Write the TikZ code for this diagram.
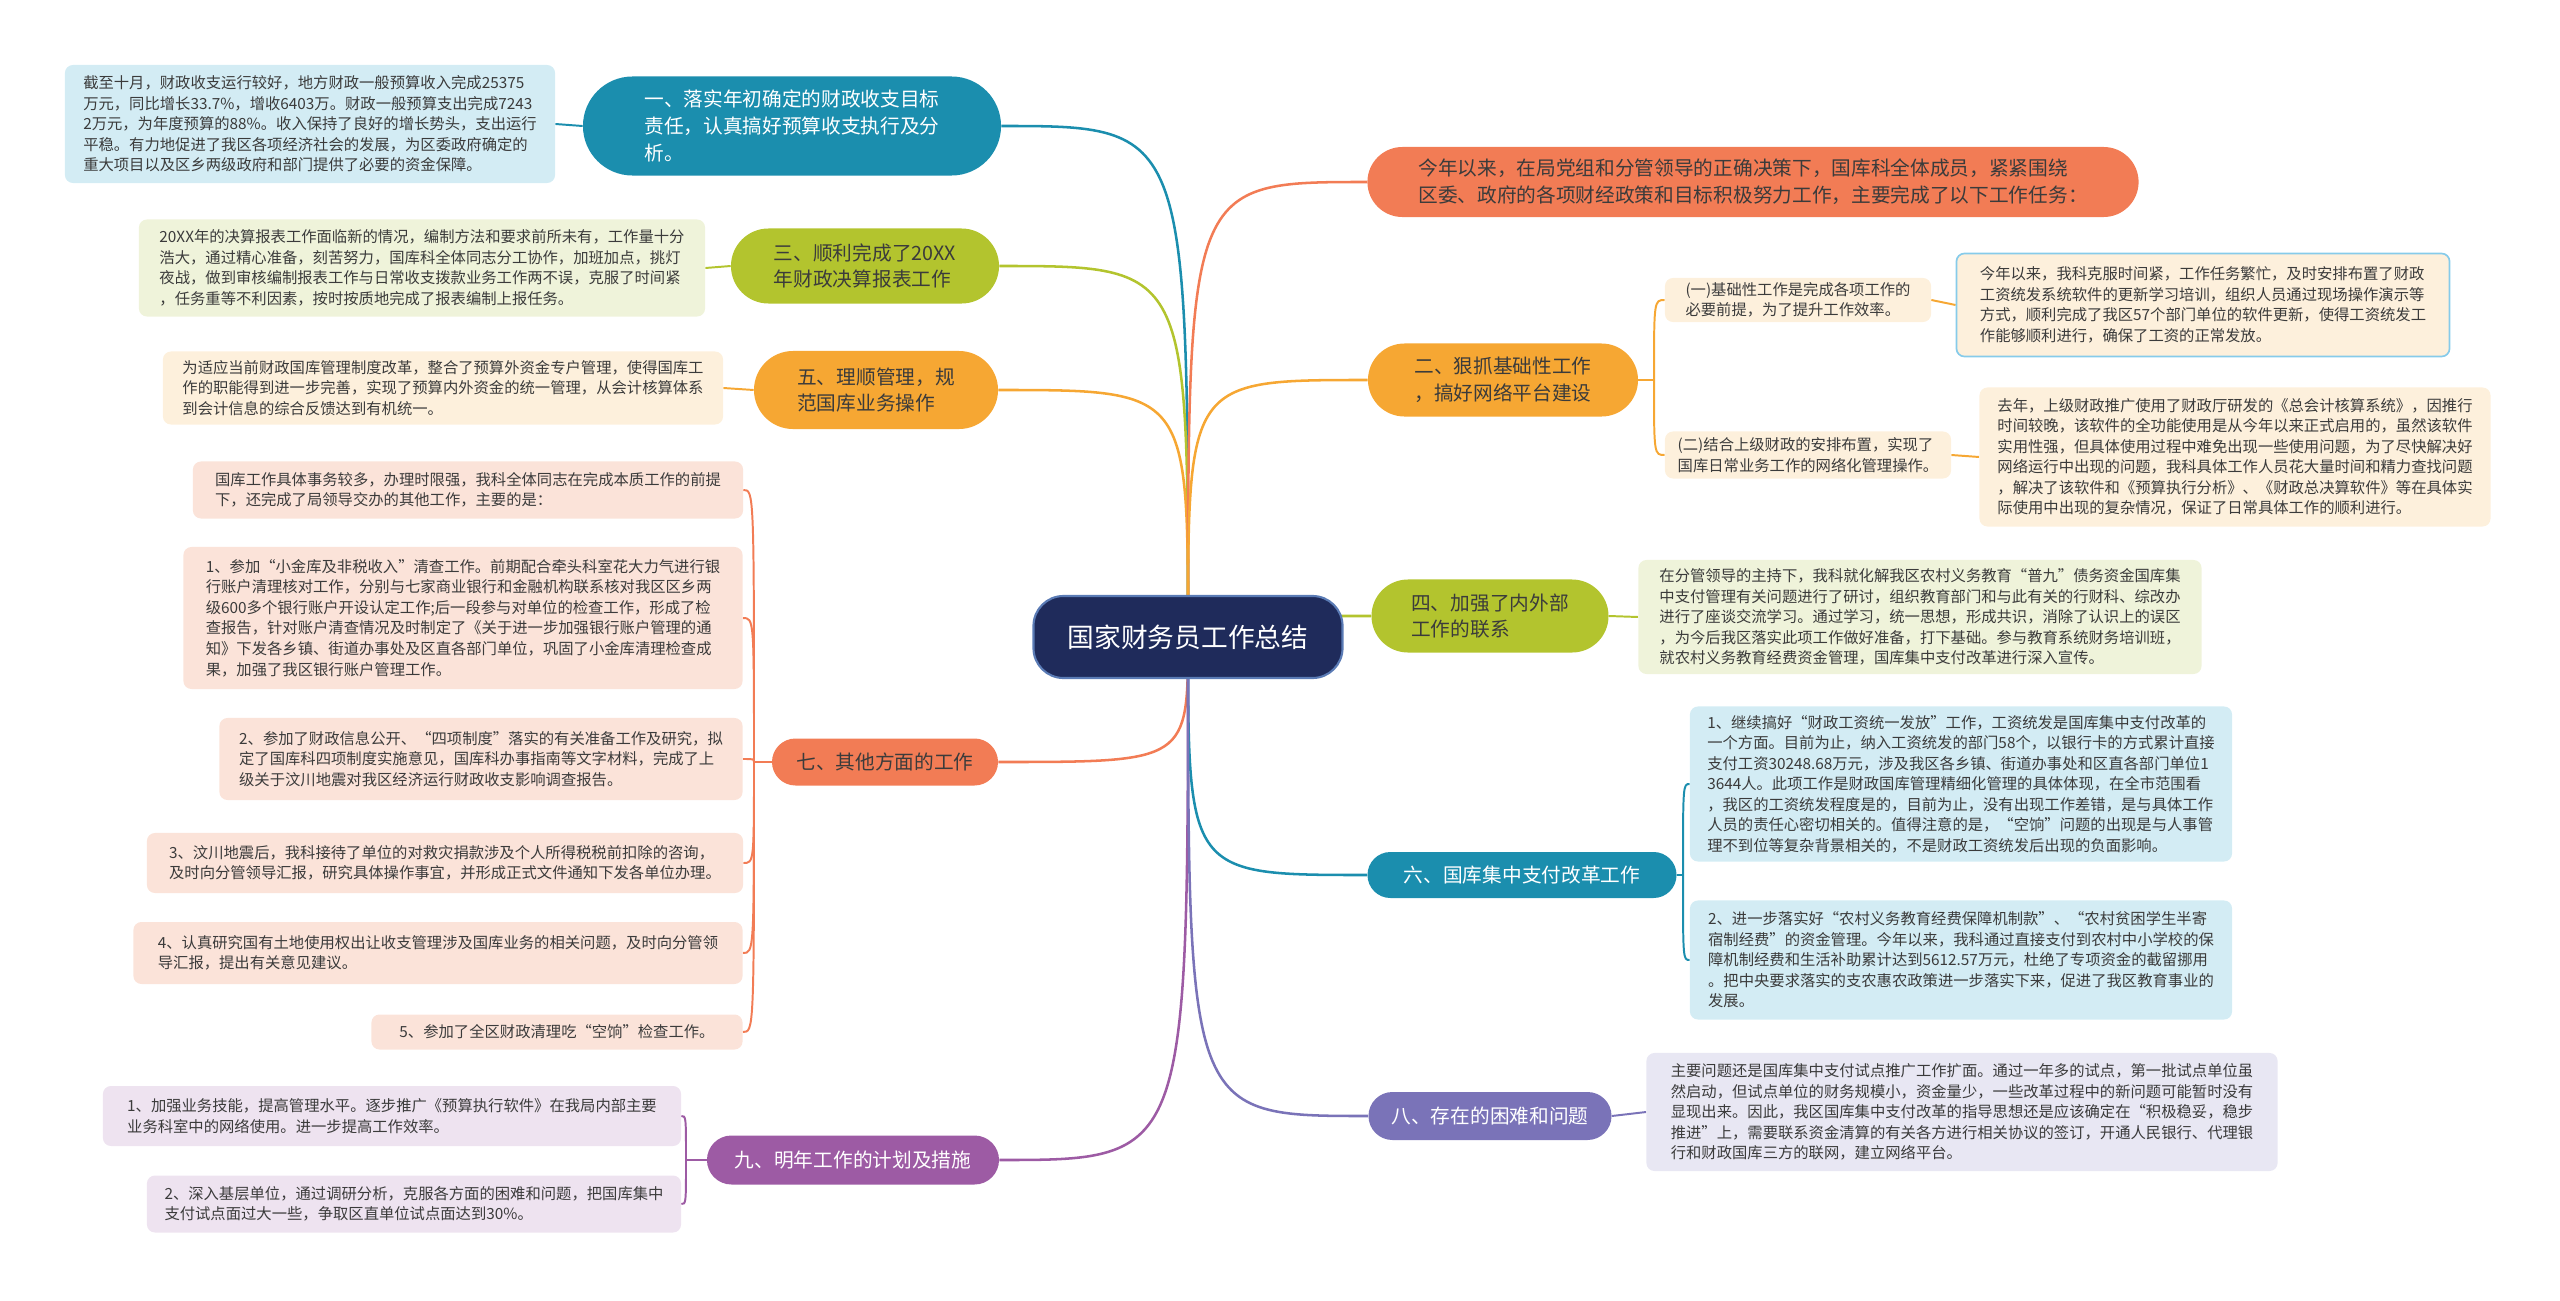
\documentclass[tikz,border=0pt]{standalone}
\usepackage{fontspec}
\newfontfamily\cjk{Noto Sans CJK SC}
\usepackage{tikz}
\usetikzlibrary{shapes.misc, backgrounds}

\definecolor{tealmain}{HTML}{1B8EAE}
\definecolor{tealsoft}{HTML}{D3ECF4}
\definecolor{limemain}{HTML}{B3C42E}
\definecolor{limesoft}{HTML}{EFF3DA}
\definecolor{ambermain}{HTML}{F6A733}
\definecolor{ambersoft}{HTML}{FDF0DC}
\definecolor{coralmain}{HTML}{F27C55}
\definecolor{coralsoft}{HTML}{FBE3D9}
\definecolor{plummain}{HTML}{9D5BA4}
\definecolor{plumsoft}{HTML}{EEE3F0}
\definecolor{slatemain}{HTML}{7A73B8}
\definecolor{slatesoft}{HTML}{E8E7F3}
\definecolor{rootnavy}{HTML}{1F2B5B}
\definecolor{rootedge}{HTML}{5A7BB5}
\definecolor{inkgray}{HTML}{3B3B3B}
\definecolor{skyedge}{HTML}{86CBEA}

\tikzset{
	leaftext/.style={font=\cjk\fontsize{10.9pt}{14.6pt}\selectfont, text=inkgray, align=left}
}
\tikzset{
	branchtext/.style={font=\cjk\fontsize{14pt}{19pt}\selectfont, align=left}
}

\begin{document}
\begin{tikzpicture}[x=0.025cm, y=-0.025cm]

\tikzset{
    leafbox/.style={
        leaftext,
        shape=rectangle,
        rounded corners=0.2cm,
        inner sep=0pt
    },
    branchnode/.style={
        branchtext,
        shape=rounded rectangle,
        inner sep=0pt
    },
    mainline/.style={line width=1.8pt},
    subline/.style={line width=1.4pt}
}

\useasboundingbox (0,0) rectangle (2560,1301);

\node[shape=rectangle, rounded corners=0.75cm, fill=rootnavy, draw=rootedge, line width=1.5pt,
      text=white, font=\cjk\fontsize{19pt}{23pt}\selectfont,
      minimum width=7.725cm, minimum height=2.05cm] (root) at (1188,637) {国家财务员工作总结};

% left side
\node[branchnode, fill=tealmain, text=white, minimum width=10.45cm, minimum height=2.475cm] (n1) at (792,126)
  {一、落实年初确定的财政收支目标\\责任，认真搞好预算收支执行及分\\析。};
\node[leafbox, fill=tealsoft, minimum width=12.25cm, minimum height=2.95cm] (box1) at (310,124)
  {截至十月，财政收支运行较好，地方财政一般预算收入完成25375\\
   万元，同比增长33.7\%，增收6403万。财政一般预算支出完成7243\\
   2万元，为年度预算的88\%。收入保持了良好的增长势头，支出运行\\
   平稳。有力地促进了我区各项经济社会的发展，为区委政府确定的\\
   重大项目以及区乡两级政府和部门提供了必要的资金保障。};

\node[branchnode, fill=limemain, text=inkgray, minimum width=6.7cm, minimum height=1.875cm] (n3) at (865,266)
  {三、顺利完成了20XX\\年财政决算报表工作};
\node[leafbox, fill=limesoft, minimum width=14.15cm, minimum height=2.425cm] (box3) at (422,268)
  {20XX年的决算报表工作面临新的情况，编制方法和要求前所未有，工作量十分\\
   浩大，通过精心准备，刻苦努力，国库科全体同志分工协作，加班加点，挑灯\\
   夜战，做到审核编制报表工作与日常收支拨款业务工作两不误，克服了时间紧\\
   ，任务重等不利因素，按时按质地完成了报表编制上报任务。};

\node[branchnode, fill=ambermain, text=inkgray, minimum width=6.1cm, minimum height=1.95cm] (n5) at (876,390)
  {五、理顺管理，规\\范国库业务操作};
\node[leafbox, fill=ambersoft, minimum width=14cm, minimum height=1.825cm] (box5) at (443,388)
  {为适应当前财政国库管理制度改革，整合了预算外资金专户管理，使得国库工\\
   作的职能得到进一步完善，实现了预算内外资金的统一管理，从会计核算体系\\
   到会计信息的综合反馈达到有机统一。};

\node[branchnode, fill=coralmain, text=inkgray, minimum width=5.65cm, minimum height=1.175cm] (n7) at (885,762)
  {七、其他方面的工作};
\node[leafbox, fill=coralsoft, minimum width=13.75cm, minimum height=1.425cm] (o0) at (468,490)
  {国库工作具体事务较多，办理时限强，我科全体同志在完成本质工作的前提\\
   下，还完成了局领导交办的其他工作，主要的是：};
\node[leafbox, fill=coralsoft, minimum width=13.975cm, minimum height=3.55cm] (o1) at (463,618)
  {1、参加“小金库及非税收入”清查工作。前期配合牵头科室花大力气进行银\\
   行账户清理核对工作，分别与七家商业银行和金融机构联系核对我区区乡两\\
   级600多个银行账户开设认定工作;后一段参与对单位的检查工作，形成了检\\
   查报告，针对账户清查情况及时制定了《关于进一步加强银行账户管理的通\\
   知》下发各乡镇、街道办事处及区直各部门单位，巩固了小金库清理检查成\\
   果，加强了我区银行账户管理工作。};
\node[leafbox, fill=coralsoft, minimum width=13.075cm, minimum height=2.05cm] (o2) at (481,759)
  {2、参加了财政信息公开、“四项制度”落实的有关准备工作及研究，拟\\
   定了国库科四项制度实施意见，国库科办事指南等文字材料，完成了上\\
   级关于汶川地震对我区经济运行财政收支影响调查报告。};
\node[leafbox, fill=coralsoft, minimum width=14.9cm, minimum height=1.5cm] (o3) at (445,863)
  {3、汶川地震后，我科接待了单位的对救灾捐款涉及个人所得税税前扣除的咨询，\\
   及时向分管领导汇报，研究具体操作事宜，并形成正式文件通知下发各单位办理。};
\node[leafbox, fill=coralsoft, minimum width=15.225cm, minimum height=1.55cm] (o4) at (438,953)
  {4、认真研究国有土地使用权出让收支管理涉及国库业务的相关问题，及时向分管领\\
   导汇报，提出有关意见建议。};
\node[leafbox, fill=coralsoft, minimum width=9.275cm, minimum height=0.875cm] (o5) at (557,1032)
  {5、参加了全区财政清理吃“空饷”检查工作。};

\node[branchnode, fill=plummain, text=white, minimum width=7.3cm, minimum height=1.225cm] (n9) at (853,1160)
  {九、明年工作的计划及措施};
\node[leafbox, fill=plumsoft, minimum width=14.45cm, minimum height=1.5cm] (p1) at (392,1116)
  {1、加强业务技能，提高管理水平。逐步推广《预算执行软件》在我局内部主要\\
   业务科室中的网络使用。进一步提高工作效率。};
\node[leafbox, fill=plumsoft, minimum width=13.35cm, minimum height=1.425cm] (p2) at (414,1204)
  {2、深入基层单位，通过调研分析，克服各方面的困难和问题，把国库集中\\
   支付试点面过大一些，争取区直单位试点面达到30\%。};

% right side
\node[branchnode, fill=coralmain, text=inkgray, minimum width=19.275cm, minimum height=1.75cm] (n0) at (1753,182)
  {今年以来，在局党组和分管领导的正确决策下，国库科全体成员，紧紧围绕\\
   区委、政府的各项财经政策和目标积极努力工作，主要完成了以下工作任务：};

\node[branchnode, fill=ambermain, text=inkgray, minimum width=6.75cm, minimum height=1.825cm] (n2) at (1503,380)
  {二、狠抓基础性工作\\，搞好网络平台建设};
\node[leafbox, fill=ambersoft, minimum width=6.65cm, minimum height=1.1cm] (s1) at (1798,300)
  {(一)基础性工作是完成各项工作的\\必要前提，为了提升工作效率。};
\node[leafbox, fill=ambersoft, minimum width=7.15cm, minimum height=1.175cm] (s2) at (1808,455)
  {(二)结合上级财政的安排布置，实现了\\国库日常业务工作的网络化管理操作。};
\node[leafbox, fill=ambersoft, draw=skyedge, line width=1.2pt, minimum width=12.325cm, minimum height=2.575cm] (d1) at (2203,305)
  {今年以来，我科克服时间紧，工作任务繁忙，及时安排布置了财政\\
   工资统发系统软件的更新学习培训，组织人员通过现场操作演示等\\
   方式，顺利完成了我区57个部门单位的软件更新，使得工资统发工\\
   作能够顺利进行，确保了工资的正常发放。};
\node[leafbox, fill=ambersoft, minimum width=12.775cm, minimum height=3.475cm] (d2) at (2235,457)
  {去年，上级财政推广使用了财政厅研发的《总会计核算系统》，因推行\\
   时间较晚，该软件的全功能使用是从今年以来正式启用的，虽然该软件\\
   实用性强，但具体使用过程中难免出现一些使用问题，为了尽快解决好\\
   网络运行中出现的问题，我科具体工作人员花大量时间和精力查找问题\\
   ，解决了该软件和《预算执行分析》、《财政总决算软件》等在具体实\\
   际使用中出现的复杂情况，保证了日常具体工作的顺利进行。};

\node[branchnode, fill=limemain, text=inkgray, minimum width=5.925cm, minimum height=1.825cm] (n4) at (1490,616)
  {四、加强了内外部\\工作的联系};
\node[leafbox, fill=limesoft, minimum width=14.075cm, minimum height=2.85cm] (d4) at (1920,617)
  {在分管领导的主持下，我科就化解我区农村义务教育“普九”债务资金国库集\\
   中支付管理有关问题进行了研讨，组织教育部门和与此有关的行财科、综改办\\
   进行了座谈交流学习。通过学习，统一思想，形成共识，消除了认识上的误区\\
   ，为今后我区落实此项工作做好准备，打下基础。参与教育系统财务培训班，\\
   就农村义务教育经费资金管理，国库集中支付改革进行深入宣传。};

\node[branchnode, fill=tealmain, text=white, minimum width=7.725cm, minimum height=1.15cm] (n6) at (1522,875)
  {六、国库集中支付改革工作};
\node[leafbox, fill=tealsoft, minimum width=13.55cm, minimum height=3.875cm] (q1) at (1961,784)
  {1、继续搞好“财政工资统一发放”工作，工资统发是国库集中支付改革的\\
   一个方面。目前为止，纳入工资统发的部门58个，以银行卡的方式累计直接\\
   支付工资30248.68万元，涉及我区各乡镇、街道办事处和区直各部门单位1\\
   3644人。此项工作是财政国库管理精细化管理的具体体现，在全市范围看\\
   ，我区的工资统发程度是的，目前为止，没有出现工作差错，是与具体工作\\
   人员的责任心密切相关的。值得注意的是，“空饷”问题的出现是与人事管\\
   理不到位等复杂背景相关的，不是财政工资统发后出现的负面影响。};
\node[leafbox, fill=tealsoft, minimum width=13.55cm, minimum height=2.975cm] (q2) at (1961,960)
  {2、进一步落实好“农村义务教育经费保障机制款”、“农村贫困学生半寄\\
   宿制经费”的资金管理。今年以来，我科通过直接支付到农村中小学校的保\\
   障机制经费和生活补助累计达到5612.57万元，杜绝了专项资金的截留挪用\\
   。把中央要求落实的支农惠农政策进一步落实下来，促进了我区教育事业的\\
   发展。};

\node[branchnode, fill=slatemain, text=white, minimum width=6.075cm, minimum height=1.2cm] (n8) at (1490,1116)
  {八、存在的困难和问题};
\node[leafbox, fill=slatesoft, minimum width=15.775cm, minimum height=2.95cm] (d8) at (1962,1112)
  {主要问题还是国库集中支付试点推广工作扩面。通过一年多的试点，第一批试点单位虽\\
   然启动，但试点单位的财务规模小，资金量少，一些改革过程中的新问题可能暂时没有\\
   显现出来。因此，我区国库集中支付改革的指导思想还是应该确定在“积极稳妥，稳步\\
   推进”上，需要联系资金清算的有关各方进行相关协议的签订，开通人民银行、代理银\\
   行和财政国库三方的联网，建立网络平台。};

\coordinate (j7) at (754,762);
\coordinate (j9) at (686,1160);
\coordinate (j2) at (1654,380);
\coordinate (j6) at (1683,875);

\begin{scope}[on background layer]
% root to branches
\draw[mainline, tealmain] (root.center) .. controls (root.center |- n1.east) .. (n1.east);
\draw[mainline, limemain] (root.center) .. controls (root.center |- n3.east) .. (n3.east);
\draw[mainline, ambermain] (root.center) .. controls (root.center |- n5.east) .. (n5.east);
\draw[mainline, coralmain] (root.center) .. controls (root.center |- n7.east) .. (n7.east);
\draw[mainline, plummain] (root.center) .. controls (root.center |- n9.east) .. (n9.east);
\draw[mainline, coralmain] (root.center) .. controls (root.center |- n0.west) .. (n0.west);
\draw[mainline, ambermain] (root.center) .. controls (root.center |- n2.west) .. (n2.west);
\draw[mainline, limemain] (root.center) .. controls (root.center |- n4.west) .. (n4.west);
\draw[mainline, tealmain] (root.center) .. controls (root.center |- n6.west) .. (n6.west);
\draw[mainline, slatemain] (root.center) .. controls (root.center |- n8.west) .. (n8.west);

% branches to leaves
\draw[subline, tealmain] (n1.west) -- (box1.east);
\draw[subline, limemain] (n3.west) -- (box3.east);
\draw[subline, ambermain] (n5.west) -- (box5.east);

\draw[subline, coralmain] (n7.west) -- (j7);
\draw[subline, coralmain] (j7) .. controls (j7 |- o0.east) .. (o0.east);
\draw[subline, coralmain] (j7) .. controls (j7 |- o1.east) .. (o1.east);
\draw[subline, coralmain] (j7) .. controls (j7 |- o2.east) .. (o2.east);
\draw[subline, coralmain] (j7) .. controls (j7 |- o3.east) .. (o3.east);
\draw[subline, coralmain] (j7) .. controls (j7 |- o4.east) .. (o4.east);
\draw[subline, coralmain] (j7) .. controls (j7 |- o5.east) .. (o5.east);

\draw[subline, plummain] (n9.west) -- (j9);
\draw[subline, plummain] (j9) .. controls (j9 |- p1.east) .. (p1.east);
\draw[subline, plummain] (j9) .. controls (j9 |- p2.east) .. (p2.east);

\draw[subline, ambermain] (n2.east) -- (j2);
\draw[subline, ambermain] (j2) .. controls (j2 |- s1.west) .. (s1.west);
\draw[subline, ambermain] (j2) .. controls (j2 |- s2.west) .. (s2.west);
\draw[subline, ambermain] (s1.east) -- (d1.west);
\draw[subline, ambermain] (s2.east) -- (d2.west);

\draw[subline, limemain] (n4.east) -- (d4.west);

\draw[subline, tealmain] (n6.east) -- (j6);
\draw[subline, tealmain] (j6) .. controls (j6 |- q1.west) .. (q1.west);
\draw[subline, tealmain] (j6) .. controls (j6 |- q2.west) .. (q2.west);

\draw[subline, slatemain] (n8.east) -- (d8.west);
\end{scope}
\end{tikzpicture}
\end{document}
